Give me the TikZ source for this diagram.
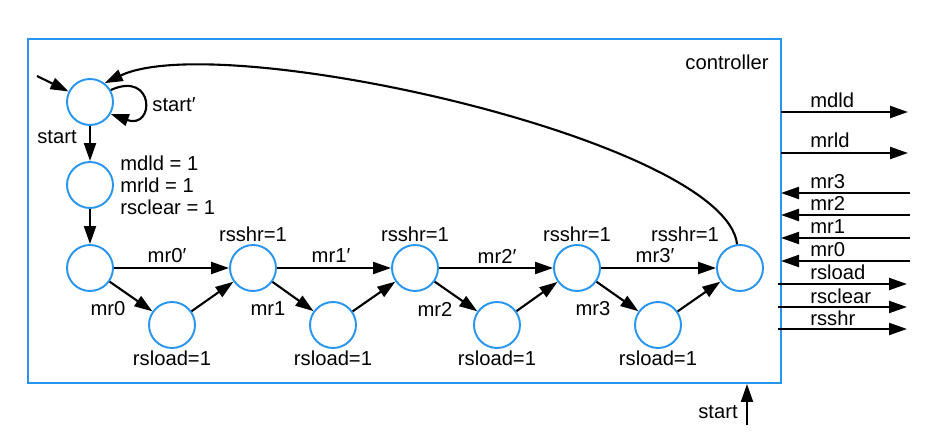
\documentclass[tikz,border=0pt]{standalone}
\usepackage{fontspec}
\setmainfont{Liberation Sans}
\usetikzlibrary{arrows.meta}
\definecolor{ctrlblue}{RGB}{40,150,240}
\tikzset{state/.style={circle,draw=ctrlblue,line width=1.1pt,minimum size=0.92cm,inner sep=0pt},
    arr/.style={line width=1.2pt,-{Triangle[length=0.36cm,width=0.24cm]}},
    lbl/.style={inner sep=0pt,font=\fontsize{11.5}{12.5}\selectfont},
    sig/.style={lbl,anchor=base west}
}

\begin{document}
\begin{tikzpicture}[x=0.02cm,y=-0.02cm]
                \useasboundingbox (0,0) rectangle (939,435);
                \draw[ctrlblue,line width=1.5pt] (28,39) rectangle (781,383);
                \node[lbl] (ctrl) at (727,62) {controller};
                
                % States
                \node[state] (q0) at (90,102) {};
                \node[state] (q1) at (90,185) {};
                \node[state] (q2) at (90,268) {};
                \node[state] (u1) at (253,268) {};
                \node[state] (u2) at (415,268) {};
                \node[state] (u3) at (577,268) {};
                \node[state] (u4) at (740,268) {};
                \node[state] (d1) at (172,325) {};
                \node[state] (d2) at (333,325) {};
                \node[state] (d3) at (497,325) {};
                \node[state] (d4) at (658,325) {};
                
                % Transitions
                \coordinate (in0) at (37,76);
                \draw[arr] (in0) -- (q0);
                \draw[arr] (q0.30) .. controls (155,70) and (155,130) .. (q0.-30);
                \draw[arr] (q0) -- (q1);
                \draw[arr] (q1) -- (q2);
                \draw[arr] (q2) -- (u1);
                \draw[arr] (q2) -- (d1);
                \draw[arr] (d1) -- (u1);
                \draw[arr] (u1) -- (u2);
                \draw[arr] (u1) -- (d2);
                \draw[arr] (d2) -- (u2);
                \draw[arr] (u2) -- (u3);
                \draw[arr] (u2) -- (d3);
                \draw[arr] (d3) -- (u3);
                \draw[arr] (u3) -- (u4);
                \draw[arr] (u3) -- (d4);
                \draw[arr] (d4) -- (u4);
                \draw[arr] (u4.97) .. controls (725,140) and (220,28) .. (q0.52);
                
                % Labels
                \node[lbl] (l1) at (174,105) {start′};
                \node[lbl] (l2) at (57,137) {start};
                \node[lbl,align=left,anchor=west] (l3) at (120,185) {mdld = 1\\mrld = 1\\rsclear = 1};
                \node[lbl] (l4) at (167,256) {mr0′};
                \node[lbl] (l5) at (331,256) {mr1′};
                \node[lbl] (l6) at (497,256) {mr2′};
                \node[lbl] (l7) at (655,256) {mr3′};
                \node[lbl] (l8) at (108,309) {mr0};
                \node[lbl] (l9) at (268,309) {mr1};
                \node[lbl] (l10) at (435,309) {mr2};
                \node[lbl] (l11) at (593,309) {mr3};
                \node[lbl] (r1) at (253,234) {rsshr=1};
                \node[lbl] (r2) at (415,234) {rsshr=1};
                \node[lbl] (r3) at (577,234) {rsshr=1};
                \node[lbl] (r4) at (685,234) {rsshr=1};
                \node[lbl] (w1) at (172,358) {rsload=1};
                \node[lbl] (w2) at (333,358) {rsload=1};
                \node[lbl] (w3) at (497,358) {rsload=1};
                \node[lbl] (w4) at (658,358) {rsload=1};
                
                % Signals
                \coordinate (mdldA) at (781,112); \coordinate (mdldB) at (908,112);
                \coordinate (mrldA) at (781,153); \coordinate (mrldB) at (908,153);
                \coordinate (mr3A) at (910,193); \coordinate (mr3B) at (781,193);
                \coordinate (mr2A) at (910,215); \coordinate (mr2B) at (781,215);
                \coordinate (mr1A) at (910,238); \coordinate (mr1B) at (781,238);
                \coordinate (mr0A) at (910,261); \coordinate (mr0B) at (781,261);
                \coordinate (rsloadA) at (778,284); \coordinate (rsloadB) at (907,284);
                \coordinate (rsclearA) at (778,307); \coordinate (rsclearB) at (907,307);
                \coordinate (rsshrA) at (778,329); \coordinate (rsshrB) at (907,329);
                \draw[arr] (mdldA) -- (mdldB);
                \draw[arr] (mrldA) -- (mrldB);
                \draw[arr] (mr3A) -- (mr3B);
                \draw[arr] (mr2A) -- (mr2B);
                \draw[arr] (mr1A) -- (mr1B);
                \draw[arr] (mr0A) -- (mr0B);
                \draw[arr] (rsloadA) -- (rsloadB);
                \draw[arr] (rsclearA) -- (rsclearB);
                \draw[arr] (rsshrA) -- (rsshrB);
                \node[sig] (s1) at (810,108) {mdld};
                \node[sig] (s2) at (810,148) {mrld};
                \node[sig] (s3) at (810,189) {mr3};
                \node[sig] (s4) at (810,211) {mr2};
                \node[sig] (s5) at (810,234) {mr1};
                \node[sig] (s6) at (810,257) {mr0};
                \node[sig] (s7) at (810,280) {rsload};
                \node[sig] (s8) at (810,303) {rsclear};
                \node[sig] (s9) at (810,325) {rsshr};
                
                \coordinate (stA) at (747,425);
                \coordinate (stB) at (747,384);
                \draw[arr] (stA) -- (stB);
                \node[lbl] (st) at (718,412) {start};
            \end{tikzpicture}
\end{document}
